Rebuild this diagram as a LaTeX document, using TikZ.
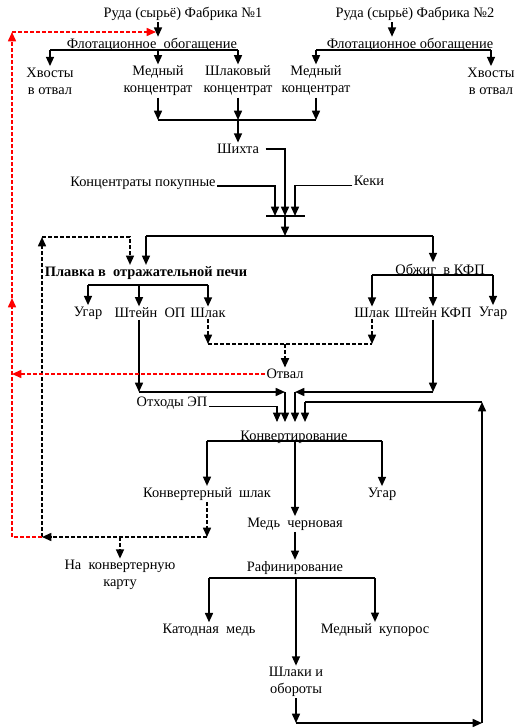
\documentclass[tikz,border=0pt]{standalone}
\usepackage{fontspec}
\setmainfont{Liberation Serif}
\newfontfamily\schemefont{Liberation Serif}
\usetikzlibrary{arrows.meta,calc}

\begin{document}
\begin{tikzpicture}[
  x=0.75pt, y=-0.75pt,
  lbl/.style={inner sep=1pt, align=center, font=\schemefont\fontsize{10.8}{12.75}\selectfont},
  arrow/.style={line width=1.2pt, -{Triangle[width=6pt,length=7pt]}},
  bus/.style={line width=0.9pt},
  dsh/.style={line width=1.2pt, dash pattern=on 3pt off 1.5pt},
  rdsh/.style={line width=1.2pt, red, dash pattern=on 3pt off 1.5pt}
]
\useasboundingbox (0,0) rectangle (515,728);

% nodes
\node[lbl] (ore1) at (183,14) {Руда (сырьё) Фабрика №1};
\node[lbl] (ore2) at (415,14) {Руда (сырьё) Фабрика №2};
\node[lbl] (flot1) at (152,45) {Флотационное\ \ обогащение};
\node[lbl] (flot2) at (410,45) {Флотационное обогащение};
\node[lbl] (xv1) at (50,81) {Хвосты\\в отвал};
\node[lbl] (med1) at (158,81) {Медный\\концентрат};
\node[lbl] (shl1) at (238,81) {Шлаковый\\концентрат};
\node[lbl] (med2) at (316,81) {Медный\\концентрат};
\node[lbl] (xv2) at (491,81) {Хвосты\\в отвал};
\node[lbl] (shixta) at (238,149) {Шихта};
\node[lbl] (konc) at (143,183) {Концентраты покупные};
\node[lbl] (keki) at (369,181) {Кеки};
\node[lbl, font=\schemefont\fontsize{10.8}{12.75}\selectfont\bfseries] (plavka) at (146,273) {Плавка в\ \ отражательной печи};
\node[lbl] (obzhig) at (440,269) {Обжиг\ \ в КФП};
\node[lbl] (ugar1) at (88,313) {Угар};
\node[lbl] (shtop) at (150,313) {Штейн\ \ ОП};
\node[lbl] (shlak1) at (208,313) {Шлак};
\node[lbl] (shlak2) at (372,313) {Шлак};
\node[lbl] (shtkfp) at (433,313) {Штейн КФП};
\node[lbl] (ugar2) at (493,313) {Угар};
\node[lbl] (otval) at (285,374) {Отвал};
\node[lbl] (othody) at (172,403) {Отходы ЭП};
\node[lbl] (konv) at (294,437) {Конвертирование};
\node[lbl] (konvsh) at (207,494) {Конвертерный\ \ шлак};
\node[lbl] (ugar3) at (382,494) {Угар};
\node[lbl] (medch) at (295,524) {Медь\ \ черновая};
\node[lbl] (naconv) at (120,575) {На\ \ конвертерную\\карту};
\node[lbl] (raf) at (295,568) {Рафинирование};
\node[lbl] (katod) at (209,630) {Катодная\ \ медь};
\node[lbl] (kupor) at (375,630) {Медный\ \ купорос};
\node[lbl] (shlobor) at (296,682) {Шлаки и\\обороты};

% junctions
\coordinate (fb1) at (158,50);
\coordinate (fb2) at (392,50);
\coordinate (cb) at (238,120);
\coordinate (bar) at (285,216);
\coordinate (mb) at (285,236);
\coordinate (pb) at (146,285);
\coordinate (ob) at (433,275);
\coordinate (sb) at (285,344);
\coordinate (so) at (139,392);
\coordinate (jb) at (285,392);
\coordinate (ko) at (295,392);
\coordinate (kin) at (295,422);
\coordinate (oin) at (277,422);
\coordinate (lin) at (305,402);
\coordinate (kvb) at (295,441);
\coordinate (rb) at (295,578);
\coordinate (lb) at (296,723);
\coordinate (lr) at (482,723);
\coordinate (lt) at (482,402);
\coordinate (cs) at (207,537);
\coordinate (cl) at (42,537);
\coordinate (ct) at (42,237);
\coordinate (rl) at (12,537);
\coordinate (rm) at (12,298);
\coordinate (rt) at (12,32);

% enrichment
\draw[arrow] (ore1.south -| fb1) -- (flot1.north -| fb1);
\draw[arrow] (ore2.south -| fb2) -- (flot2.north -| fb2);
\draw[bus] (xv1 |- fb1) -- (shl1 |- fb1);
\foreach \n in {xv1,med1,shl1} \draw[arrow] (\n |- fb1) -- (\n.north);
\draw[bus] (med2 |- fb2) -- (xv2 |- fb2);
\foreach \n in {med2,xv2} \draw[arrow] (\n |- fb2) -- (\n.north);

% charge
\foreach \n in {med1,shl1,med2} \draw[arrow] (\n.south) -- (\n.south |- cb);
\draw[bus] (med1 |- cb) -- (med2 |- cb);
\draw[arrow] (cb) -- (shixta.north);
\draw[arrow] ($(shixta.east)+(5,0)$) -| (bar);
\draw[arrow] (konc.base east) -| ($(bar)+(-10,0)$);
\draw[arrow] (keki.base west) -| ($(bar)+(10,0)$);
\draw[bus] ($(bar)+(-19,0)$) -- ($(bar)+(20,0)$);
\draw[arrow] (bar) -- (mb);
\draw[bus] (plavka.north |- mb) -- (shtkfp |- mb);
\draw[arrow] (plavka.north |- mb) -- (plavka.north);
\draw[arrow] (shtkfp |- mb) -- (shtkfp |- obzhig.north);

% smelting and roasting
\draw[bus] (ugar1 |- pb) -- (shlak1 |- pb);
\draw[arrow] (ugar1 |- pb) -- (ugar1.north);
\draw[arrow] (so |- pb) -- (so |- shtop.north);
\draw[arrow] (shlak1 |- pb) -- (shlak1.north);
\draw[bus] (shlak2 |- ob) -- (ugar2 |- ob);
\foreach \n in {shlak2,shtkfp,ugar2} \draw[arrow] (\n |- ob) -- (\n.north);

% slags to dump
\draw[dsh,arrow] (shlak1.south) -- (shlak1 |- sb);
\draw[dsh,arrow] (shlak2.south) -- (shlak2 |- sb);
\draw[dsh] (shlak1 |- sb) -- (shlak2 |- sb);
\draw[dsh,arrow] (sb) -- (otval.north);

% mattes to converting
\draw[arrow] (shtop.south -| so) -- (so);
\draw[arrow] (so) -- (jb);
\draw[arrow] (jb) -- (jb |- kin);
\draw[arrow] (shtkfp.south) -- (shtkfp |- jb);
\draw[arrow] (shtkfp |- jb) -- (ko);
\draw[arrow] (ko) -- (kin);
\draw[arrow, line width=0.8pt] (othody.base east) -| (oin);
\draw[bus] (lt) -- (lin);
\draw[arrow] (lin) -- (lin |- kin);

% converting
\draw[bus] (konvsh |- kvb) -- (ugar3 |- kvb);
\foreach \n in {konvsh,medch,ugar3} \draw[arrow] (\n |- kvb) -- (\n.north);
\draw[arrow] (medch.south) -- (raf.north);

% refining
\draw[bus] (katod |- rb) -- (kupor |- rb);
\foreach \n in {katod,shlobor,kupor} \draw[arrow] (\n |- rb) -- (\n.north);
\draw[arrow] (shlobor.south) -- (lb);
\draw[arrow] (lb) -- (lr);
\draw[arrow] (lr) -- (lt);

% converter slag return
\draw[dsh,arrow] (konvsh.south) -- (cs);
\draw[dsh,arrow] (cs) -- (cl);
\draw[dsh,arrow] (cl) -- (ct);
\draw[dsh,arrow] (ct) -| ($(plavka.north)+(-16,0)$);
\draw[dsh,arrow] (naconv.north |- cs) -- (naconv.north);

% red return
\draw[rdsh] (cl) -- (rl);
\draw[rdsh,arrow] (rl) -- (rm);
\draw[rdsh,arrow] (rm) -- (rt);
\draw[rdsh,arrow] (rt) -- ($(rt -| fb1)+(-2,0)$);
\draw[rdsh,arrow] (otval.west) -- (otval.west -| rt);
\end{tikzpicture}
\end{document}
